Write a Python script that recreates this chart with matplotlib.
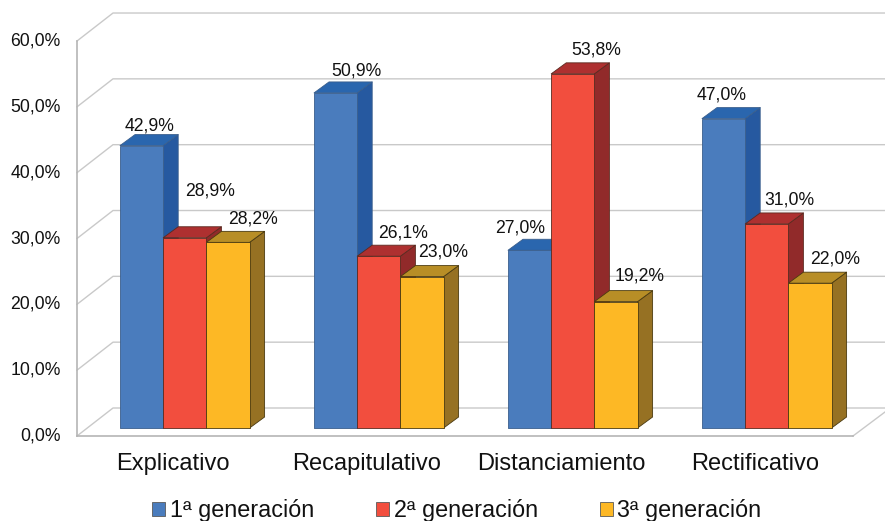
import matplotlib
matplotlib.use("Agg")
import matplotlib.pyplot as plt
from matplotlib.patches import Polygon, Patch
from matplotlib.transforms import ScaledTranslation

plt.rcParams['font.family'] = ['Liberation Sans', 'DejaVu Sans']

categories = ['Explicativo', 'Recapitulativo', 'Distanciamiento', 'Rectificativo']
series_names = ['1ª generación', '2ª generación', '3ª generación']
gen1 = [42.9, 50.9, 27.0, 47.0]
gen2 = [28.9, 26.1, 53.8, 31.0]
gen3 = [28.2, 23.0, 19.2, 22.0]
y_ticks = [0, 10, 20, 30, 40, 50, 60]

# Offsets (px) of each value label from the top centre of its bar
label_offsets = [
    [(8, 20), (21, 22), (-9, 22), (-2, 24)],
    [(25, 47), (24, 23), (23, 24), (23, 24)],
    [(25, 23), (21, 25), (24, 26), (25, 24)],
]

# (front, top, side, edge) colours per series
face_colors = [
    ('#4A7CBD', '#2A66AE', '#2659A0', '#3A5E8C'),
    ('#F24E3E', '#AE3030', '#912A2A', '#5A2A20'),
    ('#FDB825', '#B88E26', '#967123', '#4A3A10'),
]

W, H = 885, 521
X_UNIT = 194.0     # px per category
Y_UNIT = 6.583     # px per percent
LEFT_PX, BASE_PX = 77, 436

fig = plt.figure(figsize=(W / 100, H / 100), dpi=100, facecolor='white')
ax = fig.add_axes([LEFT_PX / W, (H - BASE_PX) / H, 1 - LEFT_PX / W, BASE_PX / H])
ax.set_xlim(0, (W - LEFT_PX) / X_UNIT)
ax.set_ylim(0, BASE_PX / Y_UNIT)
ax.patch.set_visible(False)

GRID = '#C9C9C9'
wall_dx, wall_dy = 36 / X_UNIT, 28 / Y_UNIT
floor_end = 776 / X_UNIT

# Back wall gridlines and their diagonals on the side wall
for t in y_ticks:
    ax.plot([0, wall_dx, ax.get_xlim()[1]], [t, t + wall_dy, t + wall_dy],
            color=GRID, lw=1, zorder=1, clip_on=False)
ax.plot([floor_end, floor_end + 32 / X_UNIT], [0, 24 / Y_UNIT], color=GRID, lw=1, zorder=1, clip_on=False)

for side in ('top', 'right'):
    ax.spines[side].set_visible(False)
ax.spines['left'].set_bounds(0, 60)
ax.spines['bottom'].set_bounds(0, floor_end)
for side in ('left', 'bottom'):
    ax.spines[side].set_color('#B5B5B5')
    ax.spines[side].set_linewidth(1.2)

ax.set_yticks(y_ticks)
ax.set_yticklabels([f'{t:.1f}%'.replace('.', ',') for t in y_ticks], fontsize=12.7, color='#111111')
ax.tick_params(axis='y', length=0, pad=11.7)
# Lift the percentage labels slightly above their gridline baseline
lift = ScaledTranslation(0, 2 / 100, fig.dpi_scale_trans)
for lab in ax.get_yticklabels():
    lab.set_transform(lab.get_transform() + lift)
ax.set_xticks([i + 0.495 for i in range(len(categories))])
ax.set_xticklabels(categories, fontsize=17, color='#111111')
ax.tick_params(axis='x', length=0, pad=12.5)

# Extruded bars, painted left to right so nearer faces overlap correctly
bar_w = 43.2 / X_UNIT
depth_x, depth_y = 15 / X_UNIT, 11 / Y_UNIT
floor_y = 8 / Y_UNIT
group_start = 43 / X_UNIT

series = [gen1, gen2, gen3]
for g in range(len(categories)):
    for s, values in enumerate(series):
        v = values[g]
        x0 = g + group_start + s * bar_w
        x1 = x0 + bar_w
        top = v + floor_y
        front_c, top_c, side_c, edge_c = face_colors[s]
        z = 3 + g * 3 + s
        kw = dict(edgecolor=edge_c, linewidth=0.6, joinstyle='round', zorder=z)
        ax.add_patch(Polygon([(x1, floor_y), (x1 + depth_x, floor_y + depth_y),
                              (x1 + depth_x, top + depth_y), (x1, top)], facecolor=side_c, **kw))
        ax.add_patch(Polygon([(x0, top), (x0 + depth_x, top + depth_y),
                              (x1 + depth_x, top + depth_y), (x1, top)], facecolor=top_c, **kw))
        ax.add_patch(Polygon([(x0, floor_y), (x1, floor_y), (x1, top), (x0, top)], facecolor=front_c, **kw))
        dx, dy = label_offsets[s][g]
        ax.annotate(f'{v:.1f}%'.replace('.', ','), xy=((x0 + x1) / 2, top),
                    xytext=(dx * 0.72, dy * 0.72), textcoords='offset points',
                    ha='center', va='center', fontsize=12.7, color='#111111', zorder=40)

handles = [Patch(facecolor=c[0], edgecolor='#5a5a5a', linewidth=0.6) for c in face_colors]
fig.legend(handles, series_names, ncols=3, loc='center', bbox_to_anchor=(457 / W, (H - 511) / H),
           frameon=False, fontsize=16.8, handlelength=0.55, handleheight=0.55, handletextpad=0.2,
           columnspacing=2.66, borderpad=0, labelcolor='#111111')

fig.savefig('out.png', dpi=100)
